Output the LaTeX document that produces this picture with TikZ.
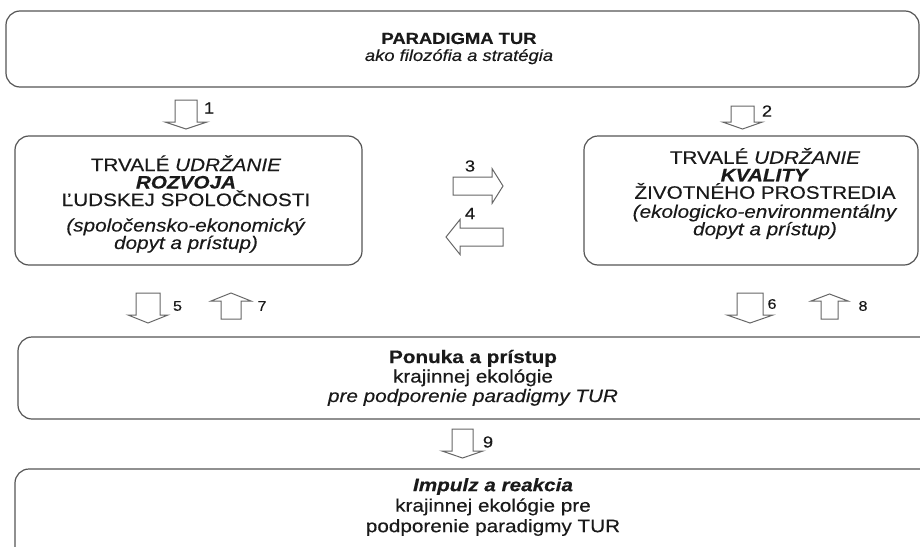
\documentclass[tikz,border=0pt]{standalone}
\usepackage{fontspec}
\setmainfont{Liberation Sans}[FakeStretch=1.15, FakeBold=0.3]
\definecolor{boxline}{HTML}{555555}
\definecolor{arrowgray}{HTML}{666666}
\definecolor{ink}{HTML}{1A1A1A}
\tikzset{
  panel/.style={draw=boxline, line width=1.2pt, rounded corners=14pt, fill=white, inner sep=0pt},
  blockline/.style={draw=arrowgray, line width=1pt, fill=white, line join=miter},
  pics/blockarrow/.style n args={4}{code={
    \path[blockline] (-#1,0) -- (#1,0) -- (#1,#3-#4) -- (#2,#3-#4) -- (0,#3)
       -- (-#2,#3-#4) -- (-#1,#3-#4) -- cycle;}},
  txt/.style={text=ink, align=center, inner sep=0pt},
  num/.style={text=ink, inner sep=0pt, font=\fontsize{16}{16}\selectfont},
  smallnum/.style={text=ink, inner sep=0pt, font=\fontsize{14}{14}\selectfont},
}
\begin{document}
\begin{tikzpicture}[x=1pt,y=-1pt]
\lineskiplimit=-100pt
\lineskip=0pt
\useasboundingbox (0,0) rectangle (920,546);
\fill[white] (0,0) rectangle (920,546);
\clip (0,0) rectangle (920,546);

% boxes
\node[panel, minimum width=913pt, minimum height=76pt] (top) at (462.5,49) {};
\node[panel, minimum width=347pt, minimum height=129pt] (left) at (188.5,200.5) {};
\node[panel, minimum width=334pt, minimum height=129pt] (right) at (751,200.5) {};
\node[panel, minimum width=922pt, minimum height=82pt] (offer) at (479,378) {};
\node[panel, minimum width=925pt, minimum height=91pt] (impulse) at (477.5,514.5) {};

% texts
\node[txt, font=\fontsize{16}{17}\selectfont] (ttop) at (459,48.5)
  {\textbf{PARADIGMA TUR}\\\textit{ako filozófia a stratégia}};
\node[txt, font=\fontsize{18}{17.5}\selectfont] (tleft) at (186,204)
  {TRVALÉ \textit{UDRŽANIE}\\\textbf{\textit{ROZVOJA}}\\ĽUDSKEJ SPOLOČNOSTI\\[8pt]%
   \textit{(spoločensko-ekonomický}\\\textit{dopyt a prístup)}};
\node[txt, font=\fontsize{18}{17.5}\selectfont] (tright) at (765,193.5)
  {TRVALÉ \textit{UDRŽANIE}\\\textbf{\textit{KVALITY}}\\ŽIVOTNÉHO PROSTREDIA\\[1.5pt]%
   \textit{(ekologicko-environmentálny}\\\textit{dopyt a prístup)}};
\node[txt, font=\fontsize{18}{19.5}\selectfont] (toffer) at (473,377.8)
  {\textbf{Ponuka a prístup}\\krajinnej ekológie\\\textit{pre podporenie paradigmy TUR}};
\node[txt, font=\fontsize{18}{20.5}\selectfont] (timpulse) at (493,507)
  {\textbf{\textit{Impulz a reakcia}}\\krajinnej ekológie pre\\podporenie paradigmy TUR};

% block arrows
\pic (a1) at (186,100) {blockarrow={11}{21}{29}{7}};
\pic (a2) at (742.5,106) {blockarrow={11.5}{20}{23}{7}};
\pic[rotate=90] (a3) at (453,186) {blockarrow={9}{17.5}{50}{11}};
\pic[rotate=-90] (a4) at (503,237) {blockarrow={9}{17.5}{57}{14}};
\pic (a5) at (148,293) {blockarrow={12}{20}{30}{8}};
\pic (a6) at (750,293) {blockarrow={13}{23}{30}{8}};
\pic[rotate=180] (a7) at (231,319) {blockarrow={10}{20}{26}{8}};
\pic[rotate=180] (a8) at (829.5,319) {blockarrow={8.5}{18.5}{25}{7}};
\pic (a9) at (462.5,429) {blockarrow={10.5}{20.5}{29}{7}};

% numbers
\node[num] (n1) at (209,108) {1};
\node[num] (n2) at (767,111) {2};
\node[num] (n3) at (470,166) {3};
\node[num] (n4) at (470,213.5) {4};
\node[smallnum] (n5) at (177.5,306) {5};
\node[smallnum] (n7) at (262,306) {7};
\node[smallnum] (n6) at (772,304) {6};
\node[smallnum] (n8) at (863,306) {8};
\node[num] (n9) at (488,442) {9};
\end{tikzpicture}
\end{document}
